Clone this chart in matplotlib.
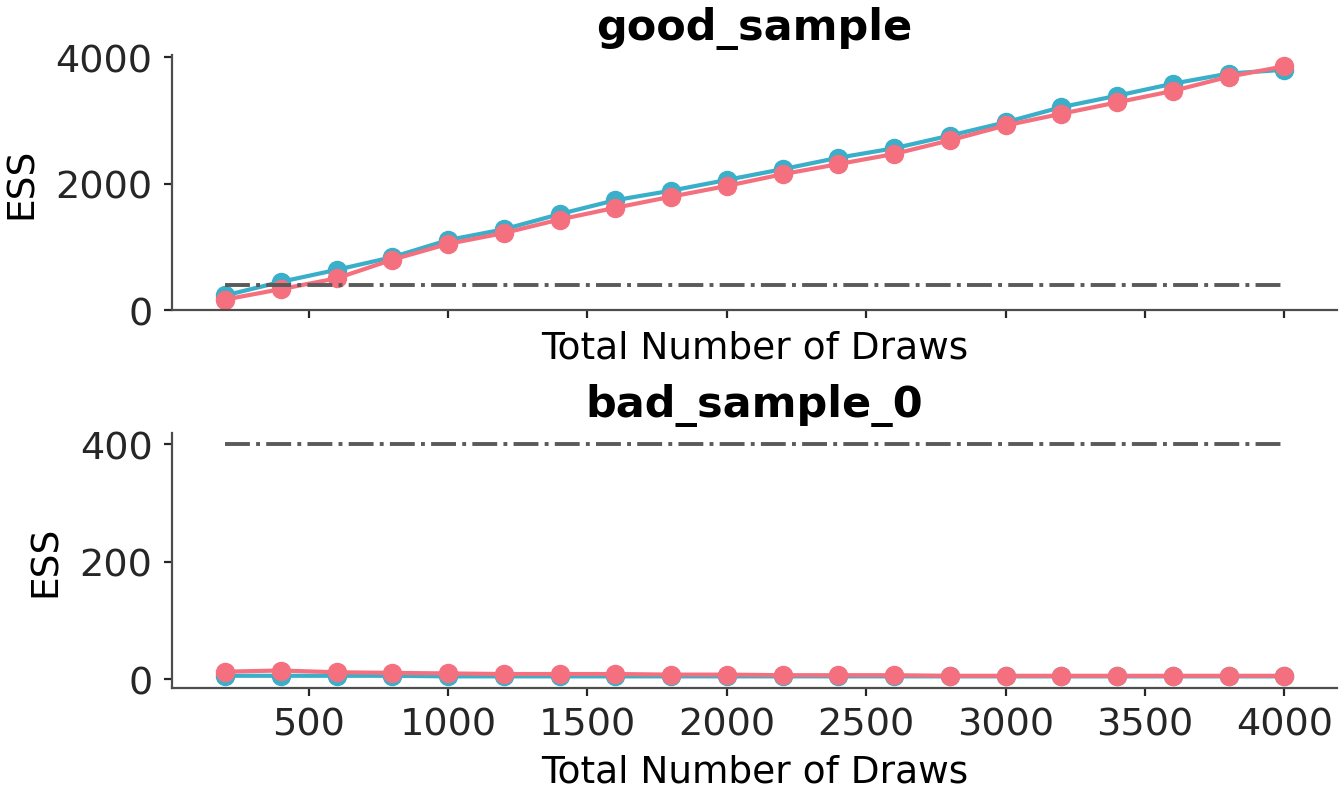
import matplotlib
matplotlib.use("Agg")
import matplotlib.pyplot as plt
import numpy as np

draws = [200, 400, 600, 800, 1000, 1200, 1400, 1600, 1800, 2000,
         2200, 2400, 2600, 2800, 3000, 3200, 3400, 3600, 3800, 4000]

# good_sample
good_blue = [235, 450, 640, 840, 1110, 1280, 1520, 1740, 1890, 2060,
             2230, 2410, 2560, 2760, 2970, 3210, 3390, 3580, 3740, 3800]
good_pink = [170, 335, 505, 800, 1050, 1220, 1435, 1620, 1795, 1965,
             2150, 2310, 2470, 2685, 2920, 3105, 3285, 3465, 3690, 3855]

# bad_sample_0
bad_blue = [6, 6, 6, 6, 5, 5, 5, 5, 5, 5, 5, 5, 5, 5, 5, 5, 5, 5, 5, 5]
bad_pink = [13, 15, 12, 11, 10, 9, 9, 9, 8, 8, 7, 7, 7, 6, 6, 6, 6, 6, 6, 6]

min_ess = 400
titles = ["good_sample", "bad_sample_0"]

blue = "#3aafc9"
pink = "#f5707f"

fig, axes = plt.subplots(2, 1, figsize=(13.44, 8.03), dpi=100, sharex=True)
fig.subplots_adjust(left=0.128, right=0.995, top=0.930, bottom=0.142, hspace=0.48)

for ax, title, yb, yp in zip(axes, titles, [good_blue, bad_blue], [good_pink, bad_pink]):
    ax.plot(draws, yb, "o-", color=blue, lw=3, ms=13)
    ax.plot(draws, yp, "o-", color=pink, lw=3, ms=13)
    ax.hlines(min_ess, draws[0], draws[-1], color="#5a5a5a", linestyle="-.", lw=2.8)
    ax.set_title(title, fontsize=31, fontweight="bold", pad=12)
    ax.set_xlabel("Total Number of Draws", fontsize=27, labelpad=8)
    ax.set_ylabel("ESS", fontsize=27, labelpad=11.5)
    for s in ["top", "right"]:
        ax.spines[s].set_visible(False)
    for s in ["left", "bottom"]:
        ax.spines[s].set_color("#4d4d4d")
        ax.spines[s].set_linewidth(1.6)
    ax.tick_params(labelsize=27.5, length=6, width=1.6, colors="#262626")
    ax.tick_params(axis="x", pad=7)
    ax.tick_params(axis="y", pad=8)

axes[0].set_ylim(0, 4030)
axes[0].set_yticks([0, 2000, 4000])
axes[1].set_yticks([0, 200, 400])
axes[1].set_xticks([500, 1000, 1500, 2000, 2500, 3000, 3500, 4000])

fig.savefig("out.png", dpi=100)
